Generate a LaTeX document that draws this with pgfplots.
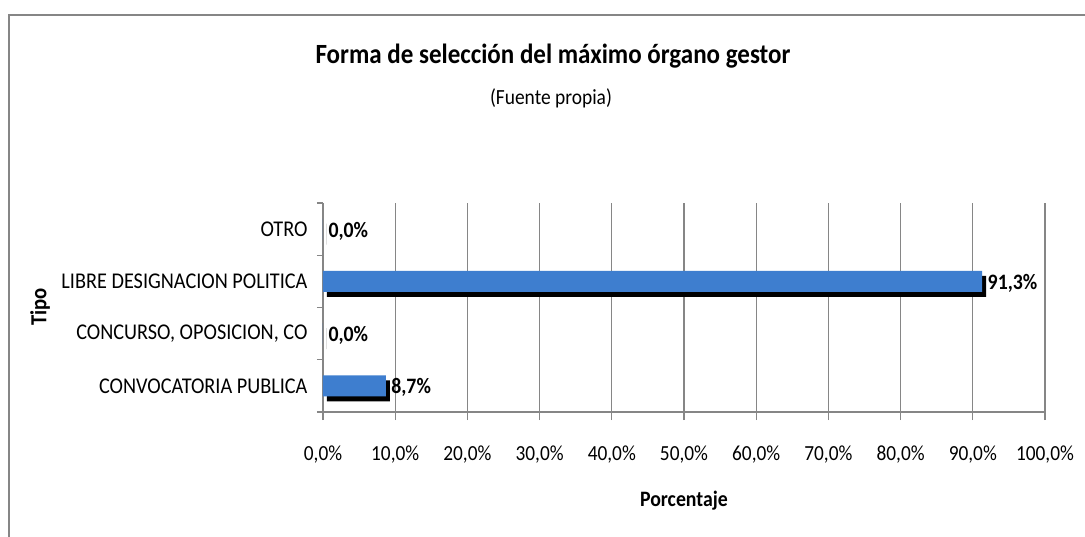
\documentclass[border=0pt]{standalone}
\usepackage{fontspec}
\setmainfont{Carlito}[FakeStretch=0.9]
\usepackage{pgfplots}
\pgfplotsset{compat=1.18}
\definecolor{barblue}{HTML}{3E7ECF}
\definecolor{axgray}{HTML}{868686}
\begin{document}
\begin{tikzpicture}[x=1pt,y=1pt]
\useasboundingbox (0,0) rectangle (1085,-537);
\fill[white] (0,0) rectangle (1085,-537);
\draw[axgray, line width=2pt] (9,-537) -- (9,-15) -- (1085,-15);
\node[anchor=base, font=\fontsize{27.8}{32}\selectfont\bfseries] at (553,-64) {Forma de selección del máximo órgano gestor};
\node[anchor=center, font=\fontsize{21.6}{25}\selectfont] at (551,-98) {(Fuente propia)};
\node[anchor=center, rotate=90, font=\fontsize{23}{27}\selectfont\bfseries] at (40,-307) {Tipo};
\begin{axis}[
  at={(323pt,-412pt)}, anchor=south west,
  scale only axis, width=722pt, height=209pt,
  xmin=0, xmax=100, ymin=-0.5, ymax=3.5,
  axis x line*=bottom, axis y line*=left,
  axis line style={axgray, line width=1.5pt, -},
  /pgf/number format/assume math mode=true,
  xtick={0,10,...,100},
  xticklabel={\pgfmathprintnumber[fixed,fixed zerofill,precision=1,use comma]{\tick}\%},
  xticklabel style={font=\fontsize{21.5}{25}\selectfont, yshift=-22pt},
  x tick style={axgray, line width=1.2pt},
  major tick length=8pt,
  tick align=outside,
  xmajorgrids, grid style={axgray, line width=1.2pt},
  ytick={0,1,2,3},
  yticklabels={CONVOCATORIA PUBLICA, {CONCURSO, OPOSICION, CO}, LIBRE DESIGNACION POLITICA, OTRO},
  yticklabel style={font=\fontsize{22.5}{26}\selectfont, xshift=-4pt},
  y tick style={draw=none},
  extra y ticks={-0.5,0.5,1.5,2.5,3.5},
  extra y tick labels={},
  extra y tick style={y tick style={axgray, line width=1.2pt, draw=axgray}, major tick length=6pt, grid=none},
  xlabel={\bfseries Porcentaje},
  xlabel style={font=\fontsize{22}{26}\selectfont, at={(0.5,0)}, anchor=center, yshift=-89pt},
  clip=false,
]
\addplot[xbar, bar width=21pt, bar shift=0pt, fill=black, draw=none, xshift=4pt, yshift=-5pt]
  coordinates {(8.7,0) (0,1) (91.3,2) (0,3)};
\addplot[xbar, bar width=21pt, bar shift=0pt, fill=barblue, draw=none,
  nodes near coords={\pgfmathprintnumber[fixed,fixed zerofill,precision=1,use comma]{\pgfplotspointmeta}\%},
  nodes near coords style={font=\fontsize{22}{26}\selectfont\bfseries, anchor=west, xshift=2pt, yshift=-2pt, text=black}]
  coordinates {(8.7,0) (0,1) (91.3,2) (0,3)};
\end{axis}
\end{tikzpicture}
\end{document}
